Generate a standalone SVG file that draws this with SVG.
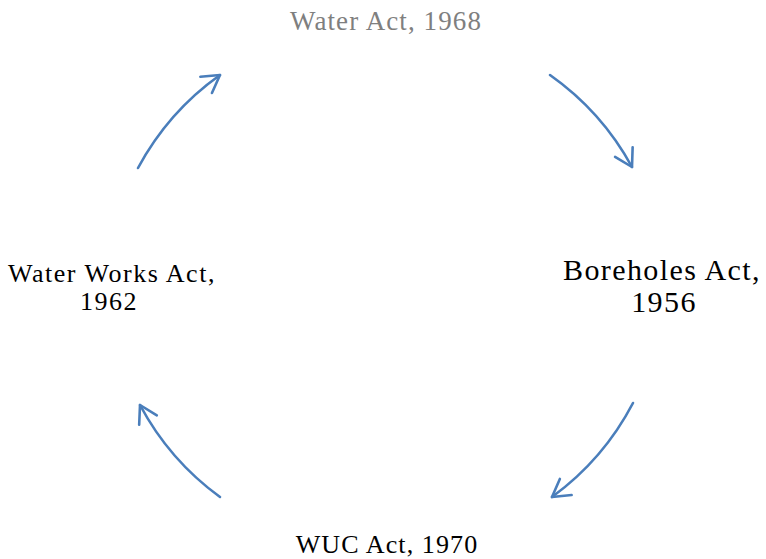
<svg xmlns="http://www.w3.org/2000/svg" width="766" height="559" viewBox="0 0 766 559">
<style>
text{font-family:"Liberation Serif","Times New Roman",serif;text-anchor:middle;fill:#000}
.arc{fill:none;stroke:#4a7ebb;stroke-width:2.6;stroke-linecap:round;marker-end:url(#ah)}
</style>
<defs>
<marker id="ah" markerUnits="userSpaceOnUse" viewBox="-20 -13 24 26" refX="0" refY="0" markerWidth="24" markerHeight="26" orient="auto">
<path d="M-17,-10 L0,0 L-17,10" fill="none" stroke="#4a7ebb" stroke-width="2.6" stroke-linecap="round" stroke-linejoin="round"/>
</marker>
</defs>
<rect width="766" height="559" fill="#fff"/>
<g id="n-water-act">
<text x="386" y="30" font-size="27" letter-spacing="1.1" style="fill:#7f7f7f">Water Act, 1968</text>
</g>
<g id="n-boreholes">
<text x="662" y="280" font-size="30" letter-spacing="1.4">Boreholes Act,</text>
<text x="664" y="312" font-size="30" letter-spacing="1.4">1956</text>
</g>
<g id="n-wuc">
<text x="387" y="553" font-size="26" letter-spacing="1.1">WUC Act, 1970</text>
</g>
<g id="n-waterworks">
<text x="112" y="282" font-size="26" letter-spacing="1.5">Water Works Act,</text>
<text x="109" y="310" font-size="26" letter-spacing="1.5">1962</text>
</g>
<g id="connectors">
<path class="arc" d="M138,168 A272,272 0 0 1 220,75"/>
<path class="arc" d="M550,75 A272,272 0 0 1 632,167"/>
<path class="arc" d="M633,403 A272,272 0 0 1 552,497"/>
<path class="arc" d="M220,497 A272,272 0 0 1 140,405"/>
</g>
</svg>
